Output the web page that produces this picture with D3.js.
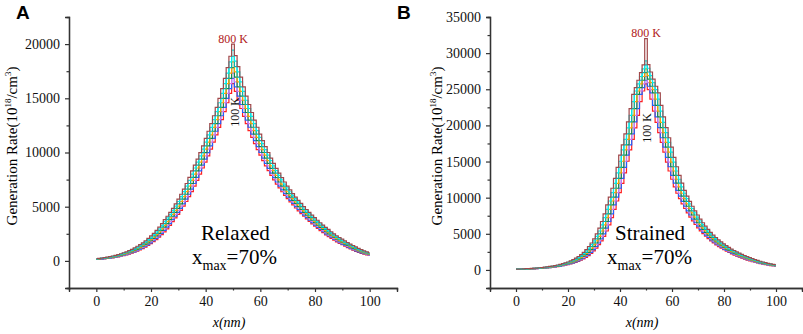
<!DOCTYPE html>
<html lang="en">
<head>
<meta charset="UTF-8">
<script src="https://d3js.org/d3.v7.min.js"></script>
<title>Generation rate</title>
<style>
  body { margin: 0; background: #fff; }
</style>
</head>
<body>
<svg id="chart" width="803" height="334"></svg>
<script>
// temperatures, inner (100 K) to outer (800 K)
const temps = ["100 K", "200 K", "300 K", "400 K", "500 K", "600 K", "700 K", "800 K"]
const colors = ["#ff2020", "#2060ff", "#d878e8", "#108a48", "#ffa200", "#00b4b4", "#00eeee", "#a0484a"]

const xTicks = [0, 20, 40, 60, 80, 100]
const relaxedTicks = [0, 5000, 10000, 15000, 20000]
const strainedTicks = [0, 5000, 10000, 15000, 20000, 25000, 30000, 35000]

// position in nm, one sample per nm (0..100)
const positions = d3.range(0, 101)

// relaxed, generation rate (10^18/cm^3), one row per temperature
const relaxedRate = [
  // 100 K
  [130,140,160,190,220,250,280,330,380,430,480,550,620,710,800,900,1010,1140,1280,1430,1590,1770,1970,2190,2420,2680,2960,3280,3620,3960,4300,4660,5060,5480,5930,6390,6890,7420,8000,8570,9110,9690,10310,10960,11630,12310,13030,13780,14590,15450,16360,
   15630,14820,14060,13340,12660,12020,11400,10820,10270,9750,9250,8770,8320,7890,7480,7090,6730,6380,6050,5740,5450,5160,4880,4610,4360,4120,3880,3640,3410,3200,3000,2800,2600,2410,2240,2080,1920,1760,1620,1490,1360,1230,1100,990,880,790,700,630,560,500],
  // 200 K
  [130,150,170,200,230,260,300,350,400,450,510,580,660,750,840,950,1070,1200,1350,1500,1670,1860,2070,2300,2540,2810,3110,3440,3800,4120,4470,4850,5260,5700,6150,6630,7140,7700,8300,8830,9390,9990,10620,11300,11960,12660,13390,14170,15000,15890,16830,
   16060,15200,14430,13690,12990,12330,11700,11100,10540,10000,9490,9000,8540,8090,7680,7280,6900,6550,6210,5890,5590,5300,5010,4740,4480,4230,4000,3750,3520,3300,3090,2900,2690,2500,2320,2160,2000,1840,1680,1550,1420,1300,1160,1040,930,830,740,660,590,530],
  // 300 K
  [140,160,190,220,250,280,330,380,430,480,550,620,710,800,900,1010,1140,1280,1430,1590,1770,1970,2190,2420,2680,2960,3280,3620,3960,4300,4660,5060,5480,5930,6390,6890,7420,8000,8570,9110,9690,10310,10960,11630,12310,13030,13780,14590,15450,16360,17330,
   16510,15630,14820,14060,13340,12660,12020,11400,10820,10270,9750,9250,8770,8320,7890,7480,7090,6730,6380,6050,5740,5450,5160,4880,4610,4360,4120,3880,3640,3410,3200,3000,2800,2600,2410,2240,2080,1920,1760,1620,1490,1360,1230,1100,990,880,790,700,630,560],
  // 400 K
  [150,170,200,230,260,300,350,400,450,510,580,660,750,840,950,1070,1200,1350,1500,1670,1860,2070,2300,2540,2810,3110,3440,3800,4120,4470,4850,5260,5700,6150,6630,7140,7700,8300,8830,9390,9990,10620,11300,11960,12660,13390,14170,15000,15890,16830,17830,
   16960,16060,15200,14430,13690,12990,12330,11700,11100,10540,10000,9490,9000,8540,8090,7680,7280,6900,6550,6210,5890,5590,5300,5010,4740,4480,4230,4000,3750,3520,3300,3090,2900,2690,2500,2320,2160,2000,1840,1680,1550,1420,1300,1160,1040,930,830,740,660,590],
  // 500 K
  [160,190,220,250,280,330,380,430,480,550,620,710,800,900,1010,1140,1280,1430,1590,1770,1970,2190,2420,2680,2960,3280,3620,3960,4300,4660,5060,5480,5930,6390,6890,7420,8000,8570,9110,9690,10310,10960,11630,12310,13030,13780,14590,15450,16360,17330,18360,
   17440,16510,15630,14820,14060,13340,12660,12020,11400,10820,10270,9750,9250,8770,8320,7890,7480,7090,6730,6380,6050,5740,5450,5160,4880,4610,4360,4120,3880,3640,3410,3200,3000,2800,2600,2410,2240,2080,1920,1760,1620,1490,1360,1230,1100,990,880,790,700,630],
  // 600 K
  [170,200,230,260,300,350,400,450,510,580,660,750,840,950,1070,1200,1350,1500,1670,1860,2070,2300,2540,2810,3110,3440,3800,4120,4470,4850,5260,5700,6150,6630,7140,7700,8300,8830,9390,9990,10620,11300,11960,12660,13390,14170,15000,15890,16830,17830,18880,
   17920,16960,16060,15200,14430,13690,12990,12330,11700,11100,10540,10000,9490,9000,8540,8090,7680,7280,6900,6550,6210,5890,5590,5300,5010,4740,4480,4230,4000,3750,3520,3300,3090,2900,2690,2500,2320,2160,2000,1840,1680,1550,1420,1300,1160,1040,930,830,740,660],
  // 700 K
  [190,220,250,280,330,380,430,480,550,620,710,800,900,1010,1140,1280,1430,1590,1770,1970,2190,2420,2680,2960,3280,3620,3960,4300,4660,5060,5480,5930,6390,6890,7420,8000,8570,9110,9690,10310,10960,11630,12310,13030,13780,14590,15450,16360,17330,18360,19440,
   18430,17440,16510,15630,14820,14060,13340,12660,12020,11400,10820,10270,9750,9250,8770,8320,7890,7480,7090,6730,6380,6050,5740,5450,5160,4880,4610,4360,4120,3880,3640,3410,3200,3000,2800,2600,2410,2240,2080,1920,1760,1620,1490,1360,1230,1100,990,880,790,700],
  // 800 K
  [200,230,260,300,350,400,450,510,580,660,750,840,950,1070,1200,1350,1500,1670,1860,2070,2300,2540,2810,3110,3440,3800,4120,4470,4850,5260,5700,6150,6630,7140,7700,8300,8830,9390,9990,10620,11300,11960,12660,13390,14170,15000,15890,16830,17830,18880,20000,
   18930,17920,16960,16060,15200,14430,13690,12990,12330,11700,11100,10540,10000,9490,9000,8540,8090,7680,7280,6900,6550,6210,5890,5590,5300,5010,4740,4480,4230,4000,3750,3520,3300,3090,2900,2690,2500,2320,2160,2000,1840,1680,1550,1420,1300,1160,1040,930,830,740]
]

// strained, generation rate (10^18/cm^3)
const strainedRate = [
  // 100 K
  [80,90,100,110,120,130,140,160,180,200,230,250,280,320,360,400,450,510,580,650,730,820,930,1040,1180,1350,1530,1750,1990,2280,2630,3030,3490,4020,4650,5390,6240,7230,8380,9540,10690,11980,13420,15040,16600,18070,19660,21400,23300,24760,25750,
   24960,23640,21970,20430,18990,17650,16290,14930,13690,12550,11500,10610,9860,9150,8500,7890,7320,6790,6290,5830,5410,5020,4660,4330,4030,3740,3480,3230,3000,2790,2600,2410,2230,2060,1910,1770,1630,1500,1370,1260,1150,1060,970,880,810,740,670,610,560,510],
  // 200 K
  [80,90,100,110,120,130,150,170,190,210,240,260,300,330,380,420,480,540,610,680,770,870,980,1100,1260,1430,1630,1860,2110,2440,2810,3240,3730,4300,4990,5780,6700,7760,9000,10080,11300,12660,14180,15890,17300,18830,20490,22310,24280,25240,26250,
   25420,24500,22770,21170,19680,18290,17000,15580,14280,13090,12000,11000,10220,9490,8810,8180,7600,7040,6530,6050,5610,5200,4830,4490,4170,3880,3600,3350,3110,2890,2690,2500,2320,2140,1980,1840,1700,1560,1430,1310,1200,1100,1010,920,840,770,700,640,580,530],
  // 300 K
  [90,100,110,120,130,140,160,180,200,230,250,280,320,360,400,450,510,580,650,730,820,930,1040,1180,1350,1530,1750,1990,2280,2630,3030,3490,4020,4650,5390,6240,7230,8380,9540,10690,11980,13420,15040,16600,18070,19660,21400,23300,24760,25750,26770,
   25910,24960,23640,21970,20430,18990,17650,16290,14930,13690,12550,11500,10610,9860,9150,8500,7890,7320,6790,6290,5830,5410,5020,4660,4330,4030,3740,3480,3230,3000,2790,2600,2410,2230,2060,1910,1770,1630,1500,1370,1260,1150,1060,970,880,810,740,670,610,560],
  // 400 K
  [90,100,110,120,130,150,170,190,210,240,260,300,330,380,420,480,540,610,680,770,870,980,1100,1260,1430,1630,1860,2110,2440,2810,3240,3730,4300,4990,5780,6700,7760,9000,10080,11300,12660,14180,15890,17300,18830,20490,22310,24280,25240,26250,27290,
   26390,25420,24500,22770,21170,19680,18290,17000,15580,14280,13090,12000,11000,10220,9490,8810,8180,7600,7040,6530,6050,5610,5200,4830,4490,4170,3880,3600,3350,3110,2890,2690,2500,2320,2140,1980,1840,1700,1560,1430,1310,1200,1100,1010,920,840,770,700,640,580],
  // 500 K
  [100,110,120,130,140,160,180,200,230,250,280,320,360,400,450,510,580,650,730,820,930,1040,1180,1350,1530,1750,1990,2280,2630,3030,3490,4020,4650,5390,6240,7230,8380,9540,10690,11980,13420,15040,16600,18070,19660,21400,23300,24760,25750,26770,27830,
   26890,25910,24960,23640,21970,20430,18990,17650,16290,14930,13690,12550,11500,10610,9860,9150,8500,7890,7320,6790,6290,5830,5410,5020,4660,4330,4030,3740,3480,3230,3000,2790,2600,2410,2230,2060,1910,1770,1630,1500,1370,1260,1150,1060,970,880,810,740,670,610],
  // 600 K
  [100,110,120,130,150,170,190,210,240,260,300,330,380,420,480,540,610,680,770,870,980,1100,1260,1430,1630,1860,2110,2440,2810,3240,3730,4300,4990,5780,6700,7760,9000,10080,11300,12660,14180,15890,17300,18830,20490,22310,24280,25240,26250,27290,28370,
   27390,26390,25420,24500,22770,21170,19680,18290,17000,15580,14280,13090,12000,11000,10220,9490,8810,8180,7600,7040,6530,6050,5610,5200,4830,4490,4170,3880,3600,3350,3110,2890,2690,2500,2320,2140,1980,1840,1700,1560,1430,1310,1200,1100,1010,920,840,770,700,640],
  // 700 K
  [110,120,130,140,160,180,200,230,250,280,320,360,400,450,510,580,650,730,820,930,1040,1180,1350,1530,1750,1990,2280,2630,3030,3490,4020,4650,5390,6240,7230,8380,9540,10690,11980,13420,15040,16600,18070,19660,21400,23300,24760,25750,26770,27830,28940,
   27910,26890,25910,24960,23640,21970,20430,18990,17650,16290,14930,13690,12550,11500,10610,9860,9150,8500,7890,7320,6790,6290,5830,5410,5020,4660,4330,4030,3740,3480,3230,3000,2790,2600,2410,2230,2060,1910,1770,1630,1500,1370,1260,1150,1060,970,880,810,740,670],
  // 800 K
  [110,120,130,150,170,190,210,240,260,300,330,380,420,480,540,610,680,770,870,980,1100,1260,1430,1630,1860,2110,2440,2810,3240,3730,4300,4990,5780,6700,7760,9000,10080,11300,12660,14180,15890,17300,18830,20490,22310,24280,25240,26250,27290,28370,32000,
   28420,27390,26390,25420,24500,22770,21170,19680,18290,17000,15580,14280,13090,12000,11000,10220,9490,8810,8180,7600,7040,6530,6050,5610,5200,4830,4490,4170,3880,3600,3350,3110,2890,2690,2500,2320,2140,1980,1840,1700,1560,1430,1310,1200,1100,1010,920,840,770,700]
]

const svg = d3.select("#chart")
const serif = "Liberation Serif, Times New Roman, serif"

function panel(opt) {
    let x = d3.scaleLinear().domain([-10, 110]).range(opt.xRange)
    let y = d3.scaleLinear().domain(opt.yDomain).range([288, 17])
    let g = svg.append("g")

    // axes, major + minor ticks pointing out
    g.append("g").attr("transform", "translate(0,288)")
        .call(d3.axisBottom(x).tickValues(xTicks).tickSize(4).tickPadding(4))
    g.append("g").attr("transform", "translate(0,288)")
        .call(d3.axisBottom(x).tickValues([-10, 10, 30, 50, 70, 90, 110]).tickSize(2.5).tickFormat(""))
    g.append("g").attr("transform", `translate(${opt.xRange[0]},0)`)
        .call(d3.axisLeft(y).tickValues(opt.yTicks).tickSize(4).tickPadding(5).tickFormat(d3.format("d")))
    g.append("g").attr("transform", `translate(${opt.xRange[0]},0)`)
        .call(d3.axisLeft(y).tickValues(opt.yTicks.map(v => v - 2500)).tickSize(2.5).tickFormat(""))
    g.selectAll(".domain").attr("stroke", "#333").attr("stroke-width", 1.3)
    g.selectAll(".tick line").attr("stroke", "#333").attr("stroke-width", 1.2)
    g.selectAll(".tick text").attr("font-family", serif).attr("font-size", 14).attr("fill", "#111")

    // one step line per temperature, 100 K first so 800 K sits on top
    let line = d3.line().x((d, i) => x(positions[i])).y(d => y(d)).curve(d3.curveStep)
    opt.series.forEach((s, i) => {
        g.append("path").datum(s).attr("fill", "none")
            .attr("stroke", colors[i]).attr("stroke-width", 1.2).attr("d", line)
    })

    // labels
    g.append("text").attr("x", (opt.xRange[0] + opt.xRange[1]) / 2 - 4).attr("y", 327)
        .attr("text-anchor", "middle").attr("font-family", serif).attr("font-style", "italic")
        .attr("font-size", 14).text("x(nm)")
    let yt = g.append("text").attr("transform", `translate(${opt.yTitleX},146) rotate(-90)`)
        .attr("text-anchor", "middle").attr("font-family", serif).attr("font-size", 15)
    yt.append("tspan").text("Generation Rate(10")
    yt.append("tspan").attr("font-size", 9).attr("dy", -6).text("18")
    yt.append("tspan").attr("dy", 6).text("/cm")
    yt.append("tspan").attr("font-size", 9).attr("dy", -6).text("3")
    yt.append("tspan").attr("dy", 6).text(")")

    g.append("text").attr("x", opt.letterX).attr("y", 19).attr("font-family", "Liberation Sans, Arial, sans-serif")
        .attr("font-weight", "bold").attr("font-size", 19).text(opt.letter)

    g.append("text").attr("x", x(50)).attr("y", opt.topLabelY).attr("text-anchor", "middle")
        .attr("font-family", serif).attr("font-size", 12).attr("fill", "#b01818").text(temps[7])
    g.append("text").attr("transform", `translate(${opt.lowLabel[0]},${opt.lowLabel[1]}) rotate(-90)`)
        .attr("text-anchor", "middle").attr("font-family", serif).attr("font-size", 12)
        .attr("fill", "#111").text(temps[0])

    g.append("text").attr("x", opt.nameX).attr("y", 240).attr("font-family", serif)
        .attr("font-size", 21).text(opt.name)
    let xm = g.append("text").attr("x", opt.xmaxX).attr("y", 263.5).attr("font-family", serif).attr("font-size", 21)
    xm.append("tspan").text("x")
    xm.append("tspan").attr("font-size", 14).attr("dy", 6).text("max")
    xm.append("tspan").attr("dy", -6).text("=70%")
}

panel({
    xRange: [69, 397], yDomain: [-2500, 22500], yTicks: relaxedTicks, yTitleX: 17,
    series: relaxedRate, letter: "A", letterX: 16, topLabelY: 43, lowLabel: [239, 112],
    name: "Relaxed", nameX: 201, xmaxX: 192
})
panel({
    xRange: [490, 802], yDomain: [-2500, 35000], yTicks: strainedTicks, yTitleX: 442,
    series: strainedRate, letter: "B", letterX: 397, topLabelY: 37, lowLabel: [651, 128],
    name: "Strained", nameX: 615, xmaxX: 607
})
</script>
</body>
</html>
